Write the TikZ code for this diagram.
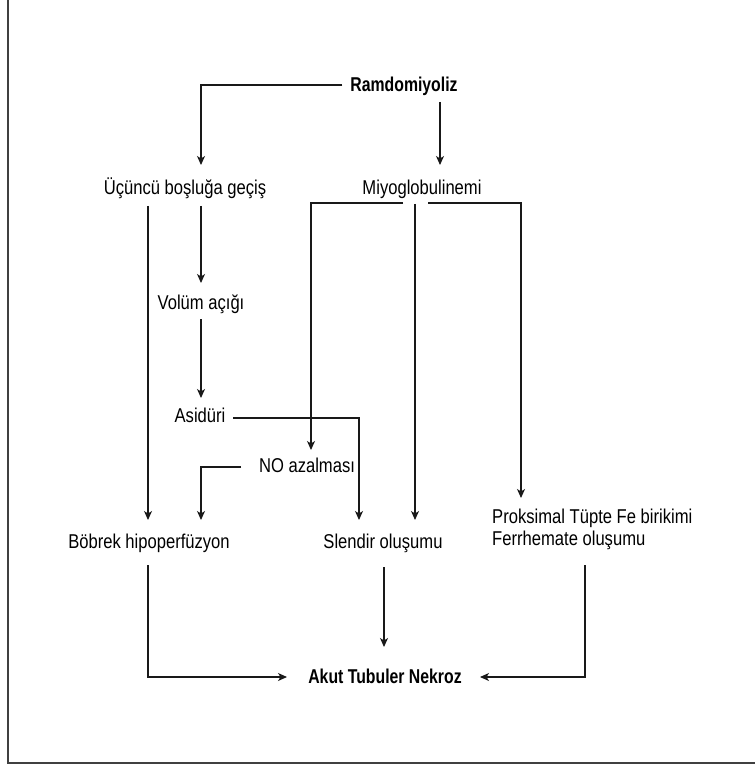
\documentclass[tikz,border=0pt]{standalone}
\usepackage{fontspec}
\setmainfont{Liberation Sans}[FakeStretch=0.83]
\newfontfamily\bd{Liberation Sans}[FakeStretch=0.79]
\usetikzlibrary{arrows.meta}
\begin{document}
\begin{tikzpicture}[x=1pt,y=-1pt,
  lbl/.style={inner sep=0pt,anchor=base,font=\fontsize{20}{22.5}\selectfont},
  hd/.style={lbl,font=\fontsize{20}{22.5}\selectfont\bd\bfseries},
  conn/.style={line width=1.1pt,draw=black!90},
  arr/.style={conn,-{Stealth[length=9pt,width=8pt,inset=2.5pt]}},
  frame/.style={line width=1.4pt,draw=black!75}]
\useasboundingbox (0,0) rectangle (755,767);
\draw[frame] (8,0) -- (8,763) -- (755,763);

\node[hd] (ram) at (404,92) {Ramdomiyoliz};
\node[lbl] (ubg) at (185,195) {Üçüncü boşluğa geçiş};
\node[lbl] (miy) at (422,195) {Miyoglobulinemi};
\node[lbl] (vol) at (201,309) {Volüm açığı};
\node[lbl] (asi) at (200,422) {Asidüri};
\node[lbl] (noa) at (307,472) {NO azalması};
\node[lbl] (bob) at (149,548) {Böbrek hipoperfüzyon};
\node[lbl] (sle) at (383,548) {Slendir oluşumu};
\node[lbl,anchor=base west] (prk) at (492,523) {\begin{tabular}[t]{@{}l@{}}Proksimal Tüpte Fe birikimi\\Ferrhemate oluşumu\end{tabular}};
\node[hd] (akt) at (385,683) {Akut Tubuler Nekroz};

% Ramdomiyoliz
\draw[arr] ([xshift=-8pt,yshift=7pt]ram.base west) -| ([xshift=16pt,yshift=30pt]ubg.base);
\draw[arr] ([xshift=36pt,yshift=-10pt]ram.base) -- ([xshift=18pt,yshift=30pt]miy.base);
% Ucuncu bosluga gecis
\draw[arr] ([xshift=16pt,yshift=-11pt]ubg.base) -- ([yshift=26pt]vol.base);
\draw[arr] ([xshift=-37pt,yshift=-11pt]ubg.base) -- ([xshift=-1pt,yshift=28pt]bob.base);
% Volum acigi
\draw[arr] ([yshift=-10pt]vol.base) -- ([xshift=1pt,yshift=24pt]asi.base);
% Asiduri
\draw[arr] ([xshift=33pt,yshift=4pt]asi.base) -| ([xshift=-24pt,yshift=28pt]sle.base);
% NO azalmasi
\draw[arr] ([xshift=-66pt,yshift=5pt]noa.base) -| ([xshift=52pt,yshift=28pt]bob.base);
% Miyoglobulinemi
\draw[arr] ([xshift=-19pt,yshift=-8pt]miy.base) -| ([xshift=4pt,yshift=22pt]noa.base);
\draw[arr] ([xshift=-7pt,yshift=-9pt]miy.base) -- ([xshift=32pt,yshift=28pt]sle.base);
\draw[arr] ([xshift=6pt,yshift=-8pt]miy.base) -| ([xshift=29pt,yshift=25pt]prk.base west);
% to Akut Tubuler Nekroz
\draw[arr] ([xshift=-1pt,yshift=-17pt]bob.base) |- ([xshift=-98pt,yshift=6pt]akt.base);
\draw[arr] ([xshift=1pt,yshift=-19pt]sle.base) -- ([xshift=-1pt,yshift=36pt]akt.base);
\draw[arr] ([xshift=93pt,yshift=-42pt]prk.base west) |- ([xshift=95pt,yshift=6pt]akt.base);
\end{tikzpicture}
\end{document}
